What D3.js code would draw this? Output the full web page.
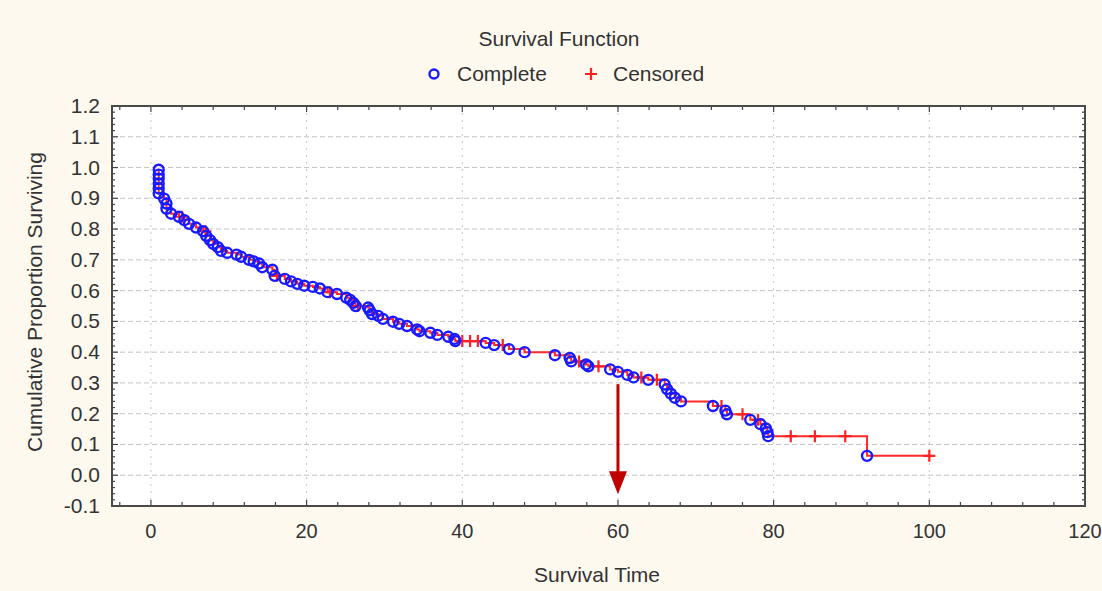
<!DOCTYPE html>
<html>
<head>
<meta charset="utf-8">
<script src="https://cdn.jsdelivr.net/npm/d3@7"></script>
<style>
  body { margin: 0; background: #fdf9ef; }
  svg text { font-family: "Liberation Sans", Arial, sans-serif; fill: #333; }
</style>
</head>
<body>
<div id="chart"></div>
<script>
// event (complete) observations: time and cumulative proportion surviving
var completeTime = [1, 1, 1, 1, 1, 1, 1.7, 2, 2, 2.6, 3.6, 4.3, 4.9, 5.8, 6.7, 7.1, 7.6, 8, 8.6, 9, 9.8,
    11, 11.6, 12.6, 13.2, 13.9, 14.3, 15.6, 15.9, 17.2, 18, 18.8, 19.7, 20.8, 21.7, 22.7, 23.9, 25.1, 25.6,
    26, 26.3, 27.9, 28.1, 28.4, 29.2, 29.8, 31.1, 31.9, 32.9, 34.2, 34.5, 35.9, 36.8, 38.2, 39, 39.1, 43,
    44.1, 46, 48, 51.9, 53.8, 54, 55.9, 56.2, 59, 60, 61.2, 62, 63.9, 66, 66.3, 66.8, 67.3, 68.1, 72.2,
    73.8, 74, 77, 78.3, 79, 79.2, 79.3, 92];
var completeSurv = [0.993, 0.977, 0.964, 0.948, 0.932, 0.916, 0.899, 0.883, 0.866, 0.85, 0.84, 0.829, 0.817,
    0.805, 0.793, 0.778, 0.764, 0.752, 0.741, 0.729, 0.723, 0.717, 0.71, 0.70, 0.695, 0.688, 0.676, 0.668,
    0.648, 0.638, 0.63, 0.622, 0.616, 0.612, 0.607, 0.595, 0.589, 0.577, 0.57, 0.56, 0.55, 0.545, 0.536,
    0.524, 0.518, 0.508, 0.499, 0.492, 0.485, 0.474, 0.468, 0.463, 0.456, 0.45, 0.443, 0.436, 0.43, 0.423,
    0.41, 0.40, 0.39, 0.381, 0.37, 0.36, 0.354, 0.344, 0.336, 0.326, 0.318, 0.31, 0.295, 0.28, 0.265,
    0.252, 0.24, 0.225, 0.21, 0.198, 0.18, 0.166, 0.152, 0.14, 0.127, 0.063];

// censored observations
var censoredTime = [4, 7, 16.2, 23, 26.6, 40, 41, 42, 45.2, 55, 57.5, 63, 65, 73.3, 76, 78, 82.2, 85.3, 89.2, 100];
var censoredSurv = [0.84, 0.793, 0.648, 0.595, 0.55, 0.436, 0.436, 0.436, 0.423, 0.37, 0.354, 0.318, 0.31,
    0.225, 0.198, 0.18, 0.127, 0.127, 0.127, 0.063];

var xTicks = [0, 20, 40, 60, 80, 100, 120];
var yTicks = [-0.1, 0, 0.1, 0.2, 0.3, 0.4, 0.5, 0.6, 0.7, 0.8, 0.9, 1.0, 1.1, 1.2];
var markTime = 60;  // arrow annotation

var W = 1102, H = 591;
var margin = {top: 106, right: 17, bottom: 85, left: 112},
    width = W - margin.left - margin.right,
    height = H - margin.top - margin.bottom;

var svg = d3.select("#chart").append("svg")
    .attr("width", W)
    .attr("height", H);

svg.append("rect").attr("width", W).attr("height", H).attr("fill", "#fdf9ef");

var g = svg.append("g")
    .attr("transform", "translate(" + margin.left + "," + margin.top + ")");

var x = d3.scaleLinear().domain([-5, 120]).range([0, width]);
var y = d3.scaleLinear().domain([-0.1, 1.2]).range([height, 0]);

g.append("rect").attr("width", width).attr("height", height).attr("fill", "#fff");

// dashed grid
g.append("g").selectAll("line")
    .data(xTicks.filter(function (d) { return d < 120; }))
    .enter().append("line")
    .attr("x1", function (d) { return x(d); })
    .attr("x2", function (d) { return x(d); })
    .attr("y1", 0).attr("y2", height)
    .attr("stroke", "#c4c4c4").attr("stroke-width", 1)
    .attr("stroke-dasharray", "2,5");
g.append("g").selectAll("line")
    .data(yTicks.slice(1, -1))
    .enter().append("line")
    .attr("x1", 0).attr("x2", width)
    .attr("y1", function (d) { return y(d); })
    .attr("y2", function (d) { return y(d); })
    .attr("stroke", "#c4c4c4").attr("stroke-width", 1)
    .attr("stroke-dasharray", "5,3");

// inside ticks on all four sides
var xMinor = d3.range(-4, 120, 4);
var yMinor = d3.range(-5, 61).map(function (i) { return i * 0.02; });
function isMajorX(d) { return d % 20 === 0; }
function isMajorY(d) { return Math.abs(Math.round(d * 10) - d * 10) < 1e-6; }

[0, height].forEach(function (yy, k) {
    g.append("g").selectAll("line").data(xMinor).enter().append("line")
        .attr("x1", function (d) { return x(d); })
        .attr("x2", function (d) { return x(d); })
        .attr("y1", yy)
        .attr("y2", function (d) { var l = isMajorX(d) ? 6 : 4; return k ? yy - l : yy + l; })
        .attr("stroke", "#444").attr("stroke-width", 1.2);
});
[0, width].forEach(function (xx, k) {
    g.append("g").selectAll("line").data(yMinor).enter().append("line")
        .attr("y1", function (d) { return y(d); })
        .attr("y2", function (d) { return y(d); })
        .attr("x1", xx)
        .attr("x2", function (d) { var l = isMajorY(d) ? 6 : 3; return k ? xx - l : xx + l; })
        .attr("stroke", "#444").attr("stroke-width", 1.2);
});

// frame
g.append("rect").attr("width", width).attr("height", height)
    .attr("fill", "none").attr("stroke", "#4a4a4a").attr("stroke-width", 2);

// tick labels
g.append("g").selectAll("text").data(xTicks).enter().append("text")
    .attr("x", function (d) { return x(d); })
    .attr("y", height + 32)
    .attr("text-anchor", "middle")
    .style("font-size", "20px")
    .text(function (d) { return d; });
g.append("g").selectAll("text").data(yTicks).enter().append("text")
    .attr("x", -12)
    .attr("y", function (d) { return y(d) + 7; })
    .attr("text-anchor", "end")
    .style("font-size", "21px")
    .text(function (d) { return d.toFixed(1); });

// axis titles
svg.append("text")
    .attr("x", 597).attr("y", 582)
    .attr("text-anchor", "middle")
    .style("font-size", "21px")
    .text("Survival Time");
svg.append("text")
    .attr("transform", "translate(42,302) rotate(-90)")
    .attr("text-anchor", "middle")
    .style("font-size", "21px")
    .text("Cumulative Proportion Surviving");

// title + legend
svg.append("text")
    .attr("x", 559).attr("y", 46)
    .attr("text-anchor", "middle")
    .style("font-size", "21px")
    .text("Survival Function");

var legend = svg.append("g");
legend.append("circle").attr("cx", 434).attr("cy", 74).attr("r", 4.5)
    .attr("fill", "none").attr("stroke", "#1a1aff").attr("stroke-width", 2.4);
legend.append("text").attr("x", 457).attr("y", 81).style("font-size", "21px").text("Complete");
legend.append("path").attr("d", "M585,74H597M591,68V80")
    .attr("stroke", "#ff2020").attr("stroke-width", 2.2);
legend.append("text").attr("x", 613).attr("y", 81).style("font-size", "21px").text("Censored");

// step line through all observations
var complete = d3.zip(completeTime, completeSurv);
var censored = d3.zip(censoredTime, censoredSurv);
var all = complete.concat(censored).sort(function (a, b) {
    return a[0] - b[0] || b[1] - a[1];
});

var line = d3.line()
    .x(function (d) { return x(d[0]); })
    .y(function (d) { return y(d[1]); })
    .curve(d3.curveStepAfter);

g.append("path").datum(all)
    .attr("d", line)
    .attr("fill", "none")
    .attr("stroke", "#ff2a2a")
    .attr("stroke-width", 2);

// censored crosses
g.append("g").selectAll("path").data(censored).enter().append("path")
    .attr("d", function (d) {
        var cx = x(d[0]), cy = y(d[1]);
        return "M" + (cx - 6) + "," + cy + "H" + (cx + 6) + "M" + cx + "," + (cy - 6) + "V" + (cy + 6);
    })
    .attr("stroke", "#ff2020").attr("stroke-width", 2.2);

// complete circles
g.append("g").selectAll("circle").data(complete).enter().append("circle")
    .attr("cx", function (d) { return x(d[0]); })
    .attr("cy", function (d) { return y(d[1]); })
    .attr("r", 5)
    .attr("fill", "none")
    .attr("stroke", "#1a1aff")
    .attr("stroke-width", 2.4);

// arrow annotation
var ax = x(markTime);
g.append("line")
    .attr("x1", ax).attr("x2", ax)
    .attr("y1", y(0.296)).attr("y2", y(0.01))
    .attr("stroke", "#c00000").attr("stroke-width", 3);
g.append("path")
    .attr("d", "M" + (ax - 9) + "," + y(0.013) + "L" + (ax + 9) + "," + y(0.013) + "L" + ax + "," + y(-0.062) + "Z")
    .attr("fill", "#c00000");
</script>
</body>
</html>
